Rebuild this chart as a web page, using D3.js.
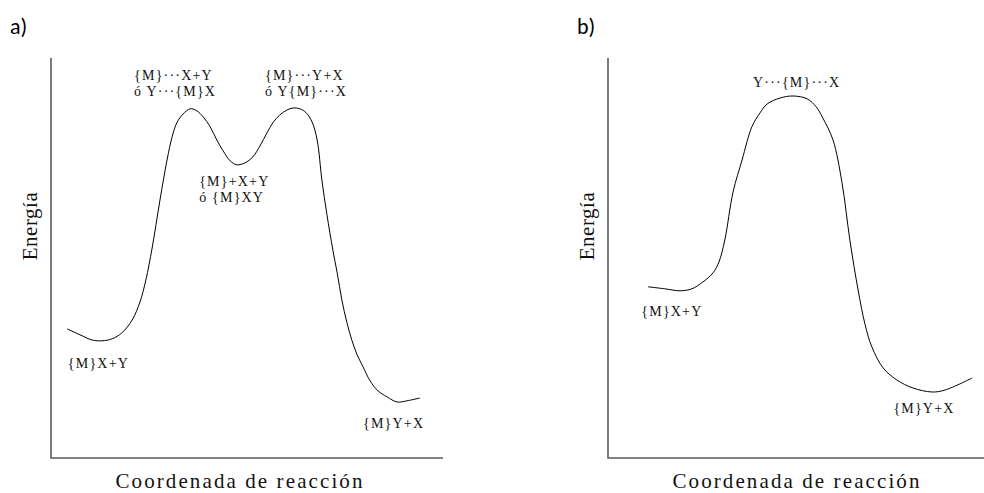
<!DOCTYPE html>
<html>
<head>
<meta charset="utf-8">
<script src="https://cdn.jsdelivr.net/npm/d3@7"></script>
<style>
  body { margin: 0; background: #fff; }
  svg { display: block; }
  .axis-line { stroke: #5a5a5a; stroke-width: 1.6; fill: none; }
  .curve { stroke: #000; stroke-width: 1; fill: none; }
  .lbl { font-size: 14px; letter-spacing: 1.2px; fill: #111; }
  .ax-title { font-size: 21px; letter-spacing: 2.1px; fill: #111; }
  .panel-tag { font-size: 22px; fill: #000; }
</style>
</head>
<body>
<svg id="chart" width="984" height="493"></svg>
<script>
'use strict';

// reaction coordinate (0-100) vs energy (0-100)
const pathA = [
  [4.1, 32.3], [7.4, 30.8], [10.5, 29.5], [13.0, 29.3], [15.6, 29.8], [18.1, 31.3],
  [20.7, 34.5], [22.7, 39.0], [24.2, 44.5], [25.8, 52.5], [27.8, 64.5], [29.6, 74.5],
  [30.9, 80.3], [32.1, 83.8], [33.7, 86.0], [35.5, 87.3], [37.2, 86.8], [38.8, 85.3],
  [40.6, 82.8], [42.3, 79.5], [43.9, 76.8], [45.7, 74.3], [47.4, 73.3], [49.5, 73.8],
  [51.5, 75.3], [53.3, 78.0], [55.1, 81.3], [56.6, 83.8], [58.4, 85.8], [60.2, 87.0],
  [61.7, 87.5], [63.5, 87.3], [65.1, 86.3], [66.6, 84.0], [67.9, 79.5], [69.1, 69.5],
  [70.4, 60.8], [71.9, 52.0], [73.0, 46.3], [74.2, 39.5], [75.5, 33.8], [76.8, 29.3],
  [78.1, 25.8], [79.6, 22.8], [81.4, 19.3], [83.4, 16.8], [85.7, 15.3], [88.3, 14.0],
  [90.8, 14.3], [94.1, 15.0]
];
const pathB = [
  [10.2, 42.8], [14.5, 42.3], [18.4, 41.8], [21.4, 42.3], [24.2, 44.0], [26.8, 46.3],
  [28.3, 49.0], [29.8, 54.5], [31.9, 66.5], [34.2, 74.5], [36.7, 82.8], [38.8, 86.3],
  [40.6, 88.5], [43.9, 90.0], [47.2, 90.5], [50.8, 89.8], [53.1, 87.8], [54.8, 85.0],
  [57.4, 79.5], [59.7, 68.8], [61.7, 54.5], [63.8, 42.0], [65.6, 33.3], [67.3, 27.8],
  [70.2, 22.5], [73.7, 19.5], [77.8, 17.5], [82.7, 16.5], [86.0, 17.0], [92.9, 20.0]
];

// labels: [x, y, line1, line2] in data units (left-aligned text)
const labelsA = [
  [21.2, 94.5, '{M}···X+Y', 'ó Y···{M}X'],
  [54.6, 94.5, '{M}···Y+X', 'ó Y{M}···X'],
  [37.8, 68.0, '{M}+X+Y', 'ó {M}XY'],
  [4.3, 22.5, '{M}X+Y', null],
  [79.6, 7.5, '{M}Y+X', null]
];
const labelsB = [
  [37.0, 92.8, 'Y···{M}···X', null],
  [8.5, 35.5, '{M}X+Y', null],
  [72.8, 11.3, '{M}Y+X', null]
];

(() => {
  const svg = d3.select('#chart');
  const serif = "'Liberation Serif', 'Times New Roman', Tinos, 'DejaVu Serif', serif";
  const sans = "Carlito, Lato, 'Open Sans', sans-serif";

  const panels = [
    { tag: 'a)', tagX: 10, left: 51, path: pathA, labels: labelsA },
    { tag: 'b)', tagX: 577, left: 608, path: pathB, labels: labelsB }
  ];

  const yTop = 58;
  const yBottom = 458;
  const plotW = 392;

  panels.forEach((p) => {
    const x = d3.scaleLinear().domain([0, 100]).range([p.left, p.left + plotW]);
    const y = d3.scaleLinear().domain([0, 100]).range([yBottom, yTop]);
    const g = svg.append('g');

    //axes (just the two bare lines)
    g.append('path')
      .attr('d', `M${p.left},${yTop} V${yBottom} H${p.left + plotW}`)
      .attr('class', 'axis-line');

    //curve
    const line = d3.line()
      .x((d) => x(d[0]))
      .y((d) => y(d[1]))
      .curve(d3.curveCatmullRom.alpha(0.5));
    g.append('path')
      .datum(p.path)
      .attr('d', line)
      .attr('class', 'curve');

    //state labels
    p.labels.forEach((l) => {
      g.append('text')
        .attr('x', x(l[0]))
        .attr('y', y(l[1]))
        .attr('class', 'lbl')
        .attr('font-family', serif)
        .text(l[2]);
      if (l[3]) {
        g.append('text')
          .attr('x', x(l[0]))
          .attr('y', y(l[1]) + 16)
          .attr('class', 'lbl')
          .attr('font-family', serif)
          .text(l[3]);
      }
    });

    //axis titles
    g.append('text')
      .attr('x', p.left + plotW / 2 - 7)
      .attr('y', 488)
      .attr('text-anchor', 'middle')
      .attr('class', 'ax-title')
      .attr('font-family', serif)
      .text('Coordenada de reacción');
    const ex = p.left - 14;
    const ey = 226;
    g.append('text')
      .attr('x', ex)
      .attr('y', ey)
      .attr('text-anchor', 'middle')
      .attr('transform', `rotate(-90, ${ex}, ${ey})`)
      .attr('class', 'ax-title')
      .attr('font-family', serif)
      .style('letter-spacing', '0.5px')
      .text('Energía');

    //panel tag
    svg.append('text')
      .attr('x', p.tagX)
      .attr('y', 34)
      .attr('class', 'panel-tag')
      .attr('font-family', sans)
      .text(p.tag);
  });
})();
</script>
</body>
</html>
